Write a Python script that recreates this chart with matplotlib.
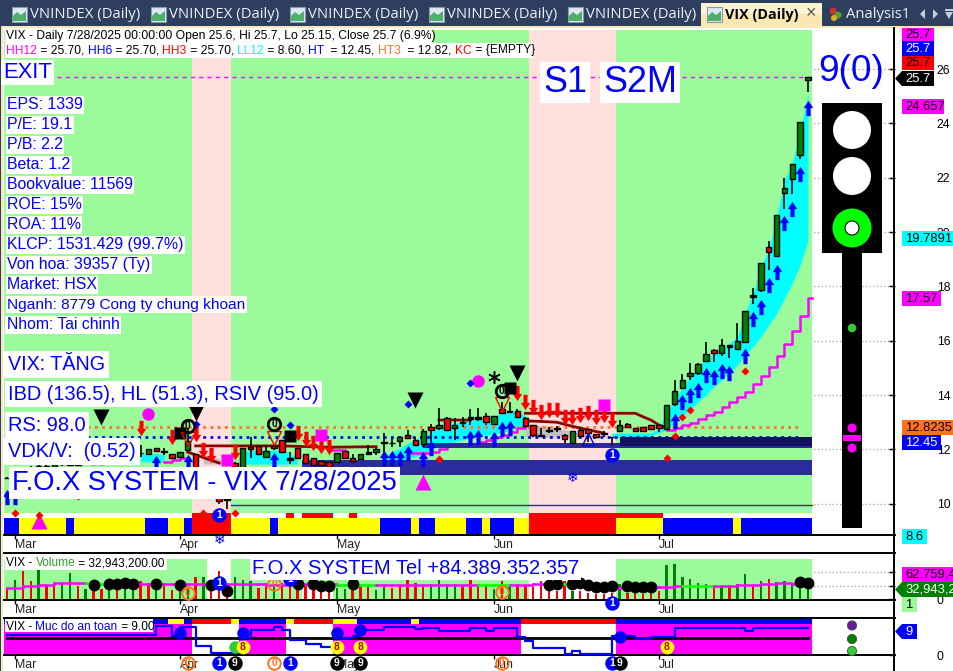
import numpy as np
import matplotlib
matplotlib.use('Agg')
import matplotlib.pyplot as plt
from matplotlib.path import Path
from matplotlib.patches import Rectangle, Polygon, Circle

plt.rcParams['font.family'] = ['Liberation Sans', 'DejaVu Sans']

# ---------- data ----------
bars = np.arange(-1, 102)
month_ticks = [0, 21, 41, 61, 82]
month_labels = ['Mar', 'Apr', 'May', 'Jun', 'Jul']

opens = [10.95,11.10,11.25,11.15,11.30,11.40,11.35,11.45,11.50,11.42,
         11.55,11.60,11.48,11.62,11.58,11.65,11.70,11.85,11.84,12.07,
         11.91,11.84,11.73,11.98,11.84,11.30,10.90,10.60,10.20,11.50,
         10.95,12.09,12.13,11.71,12.13,12.33,11.67,12.04,11.82,11.67,
         11.57,11.55,11.52,11.94,11.67,11.66,11.89,11.92,12.27,12.25,
         12.32,12.52,12.35,12.21,12.81,12.80,13.14,12.80,13.01,13.18,
         13.18,13.22,12.93,13.47,13.40,13.40,13.14,12.89,12.54,12.73,
         12.77,12.52,12.25,12.70,12.74,12.58,12.59,12.47,12.69,12.92,
         12.79,12.84,12.89,12.89,12.76,13.67,14.26,14.70,14.82,15.26,
         15.66,15.56,15.83,15.71,15.96,17.67,17.86,19.44,19.13,21.45,
         21.96,22.85,25.6]
closes = [10.95,11.25,11.15,11.30,11.40,11.35,11.45,11.50,11.42,11.55,
          11.60,11.48,11.62,11.58,11.65,11.70,11.72,11.87,12.00,11.93,
          11.93,11.67,11.89,12.32,10.95,10.80,10.40,10.10,10.15,11.0,
          12.07,12.00,11.84,11.94,12.04,11.89,11.61,11.67,11.51,11.42,
          11.42,11.36,11.85,11.70,11.56,11.82,11.84,12.01,12.22,12.22,
          12.47,12.41,12.17,12.68,12.73,12.89,12.71,12.90,12.96,13.13,
          13.13,13.00,13.23,13.35,13.36,13.18,12.87,12.52,12.50,12.68,
          12.74,12.37,12.66,12.50,12.59,12.44,12.57,12.44,12.89,12.84,
          12.69,12.69,12.74,12.77,13.62,14.14,14.55,14.83,15.13,15.53,
          15.56,15.83,15.78,15.98,17.08,17.62,18.85,19.28,20.61,21.61,
          22.49,24.04,25.7]
highs = [11.0,11.3,11.35,11.4,11.5,11.5,11.55,11.6,11.6,11.65,
         11.7,11.65,11.7,11.7,11.72,11.8,11.8,12.18,12.0,12.07,
         12.04,11.84,11.89,12.77,11.84,11.35,10.95,10.65,10.5,11.55,
         12.07,12.47,12.13,12.16,12.13,12.33,11.91,12.04,11.82,11.67,
         11.57,11.55,11.85,11.94,11.82,11.82,12.16,12.04,12.59,12.41,
         12.49,12.71,12.44,12.74,12.93,13.51,13.18,13.14,13.18,13.47,
         13.51,13.35,13.23,13.76,13.76,13.47,13.18,12.89,12.77,12.84,
         12.86,12.57,12.66,12.77,12.74,12.58,12.69,12.47,13.08,12.96,
         12.79,12.84,12.89,12.89,13.62,14.55,14.77,15.17,15.17,15.95,
         15.71,16.05,15.85,16.64,17.08,17.93,18.85,19.66,20.61,21.99,
         22.49,24.04,25.7]
lows = [10.9,11.05,11.1,11.1,11.25,11.3,11.3,11.4,11.38,11.4,
        11.5,11.45,11.45,11.55,11.55,11.6,11.65,11.73,11.84,11.93,
        11.79,11.67,11.73,11.98,10.9,10.75,10.3,10.0,9.8,10.9,
        10.9,11.67,11.84,11.71,11.98,11.89,11.48,11.67,11.51,11.42,
        11.42,11.36,11.49,11.70,11.49,11.66,11.84,11.79,11.73,12.10,
        12.10,12.37,12.16,12.10,12.28,12.71,12.69,12.35,12.84,12.90,
        13.06,12.90,12.90,13.33,13.35,13.14,12.84,12.47,12.47,12.59,
        12.65,12.22,12.25,12.47,12.28,12.44,12.47,12.16,12.65,12.78,
        12.69,12.69,12.74,12.65,12.76,13.60,14.26,14.55,14.74,15.26,
        15.23,15.43,15.36,15.71,15.96,17.35,17.80,18.60,19.09,20.86,
        21.40,22.70,25.15]

band_idx = [16,17,18,19, 29,30,31,32,33,34,35,36,
            47,48,49,50,51,52,53,54,55,56,57,58,59,60,61,62,63,64,65,
            76,77,78,79,80,81,82,83,84,85,86,87,88,89,90,91,92,93,94,95,96,97,98,99,100,101]
band_hi = [11.85,11.85,11.85,11.8, 11.9,11.97,11.97,11.97,11.97,11.97,11.9,11.6,
           11.73,11.91,12.04,12.22,12.35,12.47,12.65,12.9,12.96,12.96,13.02,13.08,13.11,13.14,13.2,13.33,13.39,13.45,13.2,
           12.6,12.6,12.6,12.6,12.6,12.6,12.77,13.32,13.88,14.25,14.67,15.04,15.35,15.53,15.66,15.9,16.15,17.0,17.74,18.72,19.34,20.56,21.9,22.53,23.75,25.1]
band_lo = [11.55,11.55,11.55,11.55, 11.46,11.46,11.46,11.46,11.46,11.46,11.46,11.46,
           11.6,11.6,11.6,11.67,11.73,11.85,11.98,12.16,12.22,12.28,12.35,12.41,12.47,12.53,12.57,12.62,12.71,12.77,12.86,
           12.45,12.45,12.45,12.45,12.45,12.5,12.62,12.71,12.96,13.26,13.45,13.75,14.0,14.31,14.55,14.8,15.1,15.47,15.78,16.15,16.58,17.0,17.56,18.11,18.79,19.7]

gray_idx = [24,25,26,27, 65,66,68,70,72,74,76]
gray_hi = [11.79,11.75,11.65,11.5, 12.95,12.9,12.85,12.72,12.6,12.5,12.45]
gray_lo = [11.46,11.46,11.46,11.46, 12.45,12.45,12.45,12.45,12.45,12.45,12.45]

maroon_idx = [23,28,34,40,46,np.nan,54,55,56,57,58,np.nan,65,68,72,76,79,80,81,82,83,np.nan,22,24,26,np.nan,65,67,69,71,73,75]
maroon_val = [12.13,12.13,12.13,12.08,12.1,np.nan,13.08,13.08,13.08,13.08,13.08,np.nan,13.33,13.33,13.33,13.33,13.33,13.2,13.08,12.9,12.78,np.nan,11.9,11.7,11.5,np.nan,13.05,13.03,13.0,12.85,12.72,12.6]

step_idx = [19,20,21,22,np.nan,40,41,42,np.nan,50,51,52,53,54,55,np.nan,59,60,61,62,63,64,65,np.nan,
            83,84,85,86,87,88,89,90,91,92,93,94,95,96,97,98,99,100,101,101.5]
step_val = [11.55,11.6,11.67,11.67,np.nan,11.97,11.97,11.97,np.nan,11.86,11.86,11.88,11.92,12.0,12.04,np.nan,12.28,12.35,12.44,12.53,12.65,12.77,12.84,np.nan,
            12.71,12.77,12.89,12.99,13.12,13.27,13.39,13.57,13.73,13.92,14.11,14.4,14.71,15.04,15.43,15.88,16.37,16.91,17.57,17.57]

up_idx = [-1,0,18,22,33,47,48,49,50,52,53,58,59,61,62,63,84,85,86,87,88,89,90,91,93,94,95,96,97,98,99,100,101]
up_val = [10.26,10.26,11.5,11.55,11.6,11.67,11.67,11.67,11.85,11.63,12.07,12.41,12.47,12.37,12.74,12.79,
          13.05,13.75,14.0,14.18,14.74,14.67,14.9,14.82,15.45,16.81,17.25,18.06,18.54,20.32,20.86,22.15,24.57]
down_idx = [16,20,23,24,25,28,36,37,38,39,40,64,65,66,67,68,69,70,71,72,73,74,75,76]
down_val = [12.77,12.44,12.55,11.98,11.79,11.89,12.61,12.37,12.22,12.13,12.1,14.06,13.76,13.57,13.39,13.45,13.45,13.2,13.2,13.26,13.33,13.18,13.26,13.08]

black_tri_idx = [11,23,51,64]
black_tri_val = [13.21,13.33,13.82,14.82]
mag_tri_idx = [3,52]
mag_tri_val = [9.37,10.81]
mag_dot_idx = [17,59]
mag_dot_val = [13.31,14.5]
blue_dia_idx = [50,58,23,33,35]
blue_dia_val = [13.68,14.46,12.94,13.48,12.9]
black_sq_idx = [21,35,63]
black_sq_val = [12.6,12.5,14.25]
mag_sq_idx = [75,39,27]
mag_sq_val = [13.63,12.53,11.6]
red_dot_idx = [85,86,93,84,54,83,0,3,24,28,8]
red_dot_val = [13.2,13.45,14.9,12.5,11.65,11.7,9.67,9.59,9.65,9.65,10.3]
ring0_idx = [22,33,62]
ring0_val = [12.87,12.93,14.16]
ring1_idx = [76,26]
ring1_val = [11.8,9.59]
snow_idx = [71,26]
snow_val = [10.93,8.67]

hh_level = 25.7
ht3_level = 12.8235
ht_level = 12.45
low_line = 9.95

strip_main = 'b'*2+'y'*6+'b'+'y'*9+'b'*3+'y'*2+'b'+'r'*5+'y'*5+'b'+'y'*13+'b'*4+'y'+'b'*2+'y'*4+'b'*2+'y'+'b'*3+'y'*2+'r'*11+'y'*6+'b'*9+'y'+'b'*9
strip_top_red = [23,24,25,26,27,35,37,38,39,40,43]+list(range(66,83))
strip_safe = 'b'*19+'bb'+'yy'+'b'+'r'*5+'y'+'b'*6+'y'+'r'*5+'y'*3+'b'*7+'y'+'b'*13+'r'*12+'b'*25
unsafe_idx = [23,24,25,26,27,28,35,36,37,38,39,40]+list(range(65,77))

volumes = [33,58,83,53,88,38,43,48,78,38,
           30,23,30,28,26,30,28,53,48,33,
           38,28,48,36,65,66,48,83,33,65,
           58,53,33,48,43,48,63,63,43,28,
           23,23,33,30,28,38,38,28,36,33,
           38,58,48,35,45,60,35,45,37,60,
           45,40,30,55,35,45,40,35,55,25,
           25,55,25,25,20,15,15,20,45,20,
           20,17,20,25,100,103,67,60,47,45,
           40,40,42,45,75,42,55,60,50,55,
           45,33,33]
vol_up = ('rgrrgrrggr' 'grrgrggrrg' 'rrggrgrrrg' 'ggrrgrrrrr' 'rrggrrrggr'
          'rrrrggggrr' 'rrgrgrrrrr' 'rrgrrrrrgr' 'rrrrgggggg' 'rgrggrgrgg' 'ggg')
vol_ma = [33,33,40,40,42,42,48,48,48,48,
          48,46,46,45,45,45,45,45,46,46,
          46,45,44,44,44,45,45,45,45,45,
          45,45,45,42,42,43,45,45,44,44,
          44,44,43,43,42,42,42,41,41,41,
          41,42,43,43,43,42,42,42,42,42,
          41,41,42,42,43,43,43,44,44,44,
          44,44,42,42,40,38,36,33,33,33,
          33,33,35,36,37,38,38,38,38,38,
          39,40,40,41,42,42,44,46,47,47,
          46,45,45]
vol_ma_green = [9,10,11,12,41,42,43,44,45,59,60,61,62,68,69,70,85,86,87,88]
vol_white = [25,26,27]+list(range(66,77))
vol_white_low = [37,38,39,40]
vol_dot_idx = [10,12,13,14,15,18,21,25,27,36,38,39,40,43,68,69,71,72,73,74,75,76,78,79,80,81,100,101]
vol_dot_val = [43,45,45,48,45,45,43,43,25,45,45,40,40,45,42,45,45,48,42,35,35,40,40,37,37,37,52,48]

safety = [7,7,7,7,7,7,7,7,7,7,
          7,7,7,7,7,7,7,7,7,9.9,
          9.9,6.7,9.7,9.7,3,3,0.7,0.7,0.7,0.7,
          6,8.8,8.8,8.8,9.7,8.8,5.3,5.3,3.8,3.8,
          2.8,2.8,5.9,5.9,6.7,8.8,8.8,8.8,9.7,9.7,
          9.7,9.7,9.1,9.2,9.2,8.2,8.2,8.2,8.2,9.4,
          9.4,8.2,9.4,9.4,9.4,6.1,5,2.4,2.4,2.4,
          2.4,0.2,1.4,0.2,0.2,0.2,0.2,6.5,6.5,6.5,
          5.5,5.5,6.1,6.1,6.1,9.2,9.2,9.2,9.2,9.2,
          9.2,9.2,9.2,9.2,8.2,9.4,9.4,9.4,9.4,9.4,
          9.4,9.4,9.4]
safety_level = 6
safe_dot_idx = [21,29,41,44,77]
safe_dot_val = [7.6,7.6,7.6,8.7,6.4]
safe_green_idx = [28]
safe_green_val = [2.8]
safe8_idx = [29,41,44,83]
safe8_val = [2.8,2.8,2.8,2.8]

labels_info = ['EPS: 1339', 'P/E: 19.1', 'P/B: 2.2', 'Beta: 1.2', 'Bookvalue: 11569', 'ROE: 15%',
               'ROA: 11%', 'KLCP: 1531.429 (99.7%)', 'Von hoa: 39357 (Ty)', 'Market: HSX',
               'Nganh: 8779 Cong ty chung khoan', 'Nhom: Tai chinh']
labels_px = [15.9, 15.9, 15.9, 15.9, 15.9, 15.9, 15.9, 15.9, 15.9, 15.9, 15.4, 15.7]
header_parts = [('HH12', '#ff00ff'), (' = 25.70, ', 'k'), ('HH6', '#0000ff'), (' = 25.70, ', 'k'),
                ('HH3', '#ff0000'), (' = 25.70, ', 'k'), ('LL12', '#00ffff'), (' = 8.60, ', 'k'),
                ('HT ', '#0000ff'), (' = 12.45, ', 'k'), ('HT3 ', '#ff7020'), (' = 12.82, ', 'k'),
                ('KC', '#ff0000'), (' = {EMPTY}', 'k')]
tab_titles = [12, 151, 290, 429, 568]

# ---------- layout helpers ----------
W, H = 954, 671
GREEN, PINK = '#9bfb9b', '#ffe0dd'
STRIP = {'b': '#0000ff', 'y': '#ffff00', 'r': '#ff0000'}
X_LEFT, X_RIGHT = -1.4, 112.08

def axes_px(x0, y0, x1, y1):
    return fig.add_axes([x0/W, 1-y1/H, (x1-x0)/W, (y1-y0)/H])

def style_panel(ax):
    ax.set_xlim(X_LEFT, X_RIGHT)
    ax.set_xticks(month_ticks)
    ax.set_xticklabels(month_labels)
    ax.tick_params(axis='x', length=3, width=1, labelsize=8.8, pad=0, color='k', labelcolor='#222222')
    for lab in ax.get_xticklabels():
        lab.set_ha('left')
    ax.yaxis.tick_right()
    ax.tick_params(axis='y', direction='in', length=4, width=1, labelsize=8.8, pad=30)
    for s in ['left', 'right']:
        ax.spines[s].set_visible(False)
    ax.spines['bottom'].set_linewidth(1.4)
    ax.spines['top'].set_linewidth(1.4)
    ax.set_axisbelow(True)

fig = plt.figure(figsize=(W/100, H/100), dpi=100, facecolor='white')

# ---------- main price panel ----------
ax = axes_px(4, 28, 895, 535)
style_panel(ax)
ax.spines['top'].set_visible(False)
ax.set_ylim(8.85, 27.51)
ax.set_yticks([10, 12, 14, 16, 18, 20, 22, 24, 26])
ax.grid(True, ls=':', color='#aaaaaa', lw=1)
tr = ax.get_xaxis_transform()

ax.bar(bars, 0.9935, bottom=0.003, width=1.0, transform=tr, color=[PINK if (23 <= b <= 27 or 66 <= b <= 76) else GREEN for b in bars], zorder=1, linewidth=0)
ax.bar(bars, 0.0105, bottom=0.0335, width=1.0, transform=tr, color=['#ff0000' if b in strip_top_red else 'white' for b in bars], zorder=1.2, linewidth=0)
ax.bar(bars, 0.0315, bottom=0.002, width=1.0, transform=tr, color=[STRIP[c] for c in strip_main], zorder=1.2, linewidth=0)

ax.barh(11.335, 65, height=0.55, left=36.5, color='#2b2b9e', zorder=2.6)
ax.barh(12.14, 49.5, height=0.18, left=52, color='#2b2b9e', zorder=2.6)
ax.barh(12.285, 24.5, height=0.33, left=77, color='#12125e', zorder=2.6)
ax.plot([27.5, 101.5], [low_line, low_line], color='#2b2b9e', lw=1, zorder=2)

b_i, b_h, b_l = map(np.array, (band_idx, band_hi, band_lo))
for a, z in [(16, 19), (29, 36), (47, 65), (76, 101)]:
    m = (b_i >= a) & (b_i <= z)
    ax.fill_between(b_i[m], b_l[m], b_h[m], color='#00ffff', lw=0, zorder=2)
g_i, g_h, g_l = map(np.array, (gray_idx, gray_hi, gray_lo))
for a, z in [(24, 27), (65, 76)]:
    m = (g_i >= a) & (g_i <= z)
    ax.fill_between(g_i[m], g_l[m], g_h[m], color='#c0c0c0', lw=0, zorder=2.1)

ax.plot([-1, 101.5], [hh_level, hh_level], color='#ff00ff', lw=1, ls=(0, (3, 3)), zorder=2.3)
ax.plot([0, 100], [ht3_level, ht3_level], color='#ff7020', lw=2, ls=(0, (1, 1.6)), zorder=2.3)
ax.plot([0, 100], [ht_level, ht_level], color='#0000ff', lw=2, ls=(0, (1, 1.6)), zorder=2.3)
ax.step(step_idx, step_val, where='post', color='#ff00ff', lw=1.8, zorder=2.4)
ax.plot(maroon_idx, maroon_val, color='#8b0000', lw=2, zorder=2.5)

op, cl, hi, lo = map(np.array, (opens, closes, highs, lows))
ax.vlines(bars, lo, hi, color='k', lw=1.2, zorder=3)
body_col = ['k' if abs(o-c) < 0.07 else ('#008000' if c > o else '#ff0000') for o, c in zip(op, cl)]
ax.bar(bars, np.abs(cl-op), bottom=np.minimum(op, cl), width=0.7, color=body_col, edgecolor='k', lw=1, zorder=3.2)

arrow_up = Path([(0, 1), (0.62, 0.05), (0.27, 0.05), (0.27, -1), (-0.27, -1), (-0.27, 0.05), (-0.62, 0.05), (0, 1)])
arrow_dn = Path([(0, -1), (0.62, -0.05), (0.27, -0.05), (0.27, 1), (-0.27, 1), (-0.27, -0.05), (-0.62, -0.05), (0, -1)])
def mk(x, y, **kw):
    kw.setdefault('mec', 'none')
    kw.setdefault('zorder', 4)
    ax.plot(x, y, ls='none', **kw)
mk(up_idx, up_val, marker=arrow_up, ms=11, mfc='#0000ff')
mk(down_idx, down_val, marker=arrow_dn, ms=11, mfc='#ff0000')
mk(black_sq_idx, black_sq_val, marker='s', ms=9, mfc='k')
mk(mag_sq_idx, mag_sq_val, marker='s', ms=9, mfc='#ff00ff')
mk(black_tri_idx, black_tri_val, marker='v', ms=11, mfc='k')
mk(mag_tri_idx, mag_tri_val, marker='^', ms=11, mfc='#ff00ff')
mk(mag_dot_idx, mag_dot_val, marker='o', ms=9, mfc='#ff00ff')
mk(blue_dia_idx, blue_dia_val, marker='D', ms=4, mfc='#0000ff')
mk(red_dot_idx, red_dot_val, marker='D', ms=4, mfc='#ff0000')
mk([61], [14.68], marker=(6, 2, 0), ms=9, mec='k', mew=1.1)
mk([73], [12.4], marker='^', ms=8, mfc='none', mec='#0000ff', mew=1)
mk(ring0_idx, [v-0.5 for v in ring0_val], marker='v', ms=10, mfc='none', mec='#ff0000', mew=1)

def ring(a, i, y, s, fc, ec, tc, ms=9, fs=7.4, mew=1.4):
    a.plot([i], [y], marker='o', ms=ms, mfc=fc, mec=ec, mew=mew, ls='none', zorder=6, clip_on=False)
    a.text(i, y, s, color=tc, ha='center', va='center', fontsize=fs, fontweight='bold', zorder=7, clip_on=False)
for i, v in zip(ring0_idx, ring0_val):
    ring(ax, i, v, '0', 'none', 'k', 'k', mew=2)
for i, v in zip(ring1_idx, ring1_val):
    ring(ax, i, v, '1', '#0000ff', '#0000ff', 'white')
for i, v in zip(snow_idx, snow_val):
    ax.text(i, v, '\u2744', family=['DejaVu Sans'], color='#0000ff', fontsize=10, ha='center', va='center', zorder=6, clip_on=False)

# ---------- volume panel ----------
av = axes_px(4, 553, 895, 600)
style_panel(av)
av.set_ylim(-2, 136)
av.set_yticks([0, 40, 80])
av.set_yticklabels(['0', '', ''])
av.grid(axis='y', ls=':', color='#aaaaaa', lw=1)
av.bar(bars, 117, width=1.0, color=['white' if b in vol_white else GREEN for b in bars], zorder=1, linewidth=0)
av.bar(vol_white_low, 40, width=1.0, color='white', zorder=1.1, linewidth=0)
av.bar(bars, volumes, width=0.3, color=['#008000' if c == 'g' else '#ff0000' for c in vol_up], zorder=2, linewidth=0)
for k in range(len(bars)-1):
    col = '#00ff00' if int(bars[k]) in vol_ma_green else '#ff00ff'
    av.step(bars[k:k+2], vol_ma[k:k+2], where='post', color=col, lw=1.8, zorder=3)
av.plot(vol_dot_idx, vol_dot_val, ls='none', marker='o', ms=8.5, mfc='k', mec='none', zorder=4)
for i, v in [(22, 20), (33, 45), (62, 21)]:
    ring(av, i, v, '0', 'none', '#ff7020', '#ff7020')
for i, v in [(26, 48), (35, 60), (76, -12)]:
    ring(av, i, v, '1', '#0000ff', '#0000ff', 'white')

# ---------- safety panel ----------
ap = axes_px(4, 618, 895, 655)
style_panel(ap)
ap.set_ylim(0, 12.8)
ap.set_yticks([0])
ap.grid(axis='y', ls=':', color='#aaaaaa', lw=1)
ap.bar(bars, 10.7, width=1.0, color=['white' if b in unsafe_idx else '#ff00ff' for b in bars], zorder=1, linewidth=0)
ap.bar(bars, 1.9, bottom=10.7, width=1.0, color=[STRIP[c] for c in strip_safe], zorder=1.1, linewidth=0)
ap.plot([-1, 101], [safety_level, safety_level], color='k', lw=2, zorder=2)
ap.step(bars, safety, where='post', color='#0000ff', lw=1.6, zorder=3)
ap.plot(safe_dot_idx, safe_dot_val, ls='none', marker='o', ms=9, mfc='#0000ff', mec='none', zorder=4)
ap.plot(safe_green_idx, safe_green_val, ls='none', marker='o', ms=9, mfc='#32cd32', mec='none', zorder=4)
for i, v in zip(safe8_idx, safe8_val):
    ring(ap, i, v, '8', 'yellow', 'yellow', '#b00000', ms=8.5)
for i, s, fc, ec, tc in [(22, '0', 'none', '#ff7020', '#ff7020'), (26, '1', '#0000ff', '#0000ff', 'white'),
                         (28, '9', 'k', 'k', 'white'), (33, '0', 'none', '#ff7020', '#ff7020'),
                         (35, '1', '#0000ff', '#0000ff', 'white'), (41, '9', 'k', 'k', 'white'),
                         (44, '9', 'k', 'k', 'white'), (62, '0', 'none', '#ff7020', '#ff7020'),
                         (76, '1', '#0000ff', '#0000ff', 'white'), (77, '9', 'k', 'k', 'white')]:
    ring(ap, i, -2.9, s, fc, ec, tc)

# ---------- overlay in pixel units ----------
ov = fig.add_axes([0, 0, 1, 1], zorder=10)
ov.set_xlim(0, W)
ov.set_ylim(H, 0)
ov.axis('off')
ov.patch.set_alpha(0)

def rect(x0, y0, x1, y1, **kw):
    kw.setdefault('lw', 0)
    ov.add_patch(Rectangle((x0, y0), x1-x0, y1-y0, **kw))

def label(x, y, s, px, color='#0000ff', box=True, pad=1.5, **kw):
    bb = dict(fc='white', ec='none', boxstyle=f'square,pad={pad/px:.3f}') if box else None
    return ov.text(x, y+px*0.06, s, fontsize=px*0.72, color=color, va='center', ha='left', bbox=bb, **kw)

# tab strip
rect(0, 0, W, 26, fc='#2d3e5e')
rect(0, 26, W, 28, fc='#f6e8b8')
rect(0, 26, 1, H, fc='#2d3e5e')
rect(1, 26, 3, H, fc='#f6e8b8')
for xt in tab_titles:
    rect(xt, 7, xt+15, 22, fc='#dce8f2', ec='#8a97a8', lw=0.8)
    ov.add_patch(Polygon([(xt+1, 21), (xt+1, 16), (xt+5, 12), (xt+9, 15), (xt+14, 11), (xt+14, 21)], fc='#4caf6a', lw=0))
    ov.text(xt+18, 14.5, 'VNINDEX (Daily)', family=['Open Sans'], fontsize=10.7, color='#eef0f4', va='center')
rect(701, 3, 822, 26, fc='#fdf3d2')
rect(701, 14, 822, 26, fc='#fbe8b0')
rect(707, 7, 722, 22, fc='#dce8f2', ec='#8a97a8', lw=0.8)
ov.add_patch(Polygon([(708, 21), (708, 16), (712, 12), (716, 15), (721, 11), (721, 21)], fc='#4caf6a', lw=0))
ov.text(725, 14.5, 'VIX (Daily)', family=['Open Sans'], fontsize=10.4, fontweight='bold', color='k', va='center')
ov.text(811, 14, '\u00d7', fontsize=13, color='#555555', va='center', ha='center')
ov.add_patch(Circle((833, 11), 3.5, fc='#d03030', lw=0))
ov.add_patch(Circle((838, 15), 3.5, fc='#50a030', lw=0))
ov.add_patch(Circle((834, 18), 3, fc='#e0b020', lw=0))
ov.text(846, 14.5, 'Analysis1', family=['Open Sans'], fontsize=10.7, color='#eef0f4', va='center')
ov.add_patch(Polygon([(925, 9), (925, 19), (920, 14)], fc='#c8ccd4', lw=0))
ov.add_patch(Polygon([(933, 9), (933, 19), (938, 14)], fc='#c8ccd4', lw=0))
ov.add_patch(Polygon([(945, 12), (953, 12), (949, 19)], fc='#c8ccd4', lw=0))
rect(945, 9, 953, 10.5, fc='#c8ccd4')

# header
rect(5, 28, 433, 43, fc='white')
rect(5, 43, 533, 58, fc='white')
ov.text(6, 35.5, 'VIX - Daily 7/28/2025 00:00:00 Open 25.6, Hi 25.7, Lo 25.15, Close 25.7 (6.9%)', fontsize=8.75, color='k', va='center')
fig.canvas.draw()
rend = fig.canvas.get_renderer()
cx = 6.0
for s, c in header_parts:
    t = ov.text(cx, 50.5, s.replace(' ', '\u00a0'), fontsize=8.65, color=c, va='center')
    cx += t.get_window_extent(rend).width

label(3, 71, 'EXIT', 22, pad=2)
label(543, 80, 'S1', 36, pad=3)
label(603, 80, 'S2M', 36, pad=3)
label(818, 69, '9(0)', 37, box=False)
for k, s in enumerate(labels_info):
    label(7, 104+20*k, s, labels_px[k])
label(8, 363, 'VIX: TĂNG', 19.8, pad=4)
label(8, 393, 'IBD (136.5), HL (51.3), RSIV (95.0)', 20, pad=3.5)
label(8, 424, 'RS: 98.0', 20, pad=3.5)
label(8, 450, 'VDK/V:  (0.52)', 20, pad=4)
label(12, 481, 'F.O.X SYSTEM - VIX 7/28/2025', 27.3, pad=3)
label(252, 567, 'F.O.X SYSTEM Tel +84.389.352.357', 20.2, pad=2)

rect(5, 556, 167, 570, fc='white')
cx = 6.0
for s, c in [('VIX - ', 'k'), ('Volume', '#2e9e2e'), (' = 32,943,200.00', 'k')]:
    t = ov.text(cx, 563, s.replace(' ', '\u00a0'), fontsize=8.6, color=c, va='center', zorder=5)
    cx += t.get_window_extent(rend).width
rect(5, 619, 153, 632, fc='white')
cx = 6.0
for s, c in [('VIX - ', 'k'), ('Muc do an toan', '#0000ff'), (' = 9.00', 'k')]:
    t = ov.text(cx, 626.5, s.replace(' ', '\u00a0'), fontsize=8.6, color=c, va='center', zorder=5)
    cx += t.get_window_extent(rend).width

# signal light
rect(822, 103, 882, 253, fc='k')
rect(842, 253, 862, 528, fc='k')
ov.add_patch(Circle((852, 130), 19, fc='white', lw=0))
ov.add_patch(Circle((852, 176), 19, fc='white', lw=0))
ov.add_patch(Circle((852, 228), 19.5, fc='#00ff00', lw=0))
ov.add_patch(Circle((852, 228), 7, fc='white', ec='k', lw=0.8))
ov.add_patch(Circle((852, 328), 4.3, fc='#32cd32', lw=0))
ov.add_patch(Circle((852, 428), 4.5, fc='#ff00ff', lw=0))
rect(843, 435, 861, 441, fc='#ff00ff')
ov.add_patch(Circle((852, 448), 4.5, fc='#ff00ff', lw=0))
for yy, cc in [(625.5, '#6a1b9a'), (639, '#008000'), (651, '#32cd32')]:
    ov.add_patch(Circle((852, yy), 4.6, fc=cc, ec='#444444', lw=0.6))

# right axis line and value tags
ov.plot([894.5, 894.5], [28, H], color='k', lw=1.4)
def tag(x0, y0, x1, y1, s, fc, tc='k', pointer=False, px=13):
    rect(x0, y0, x1, y1, fc=fc)
    if pointer:
        ov.add_patch(Polygon([(x0, y0), (x0-7, (y0+y1)/2), (x0, y1)], fc=fc, lw=0))
    ov.text(x0+3, (y0+y1)/2+0.3, s, fontsize=px*0.72, color=tc, va='center', ha='left', clip_on=True)
tag(902, 28, 934, 41, '25.7', '#ff00ff')
tag(902, 41, 934, 56, '25.7', '#0000ff', 'white')
tag(902, 56, 934, 70, '25.7', '#ff0000')
tag(902, 71, 934, 86, '25.7', 'k', 'white', True)
tag(902, 99, 944, 114, '24.657', '#ff00ff')
tag(902, 231, 954, 246, '19.7891', '#00ffff')
tag(902, 291, 941, 306, '17.57', '#ff00ff')
tag(902, 420, 954, 435, '12.8235', '#ff7020')
tag(902, 435, 941, 450, '12.45', '#0000ff', 'white')
tag(902, 529, 927, 544, '8.6', '#00ffff')
tag(902, 567, 954, 582, '62,759,46', '#ff00ff')
tag(902, 582, 954, 597, '32,943,20', '#008000', 'white', True)
tag(902, 597, 917, 612, '1', GREEN)
tag(902, 624, 917, 639, '9', '#0000ff', 'white', True)

fig.savefig('out.png', dpi=100, facecolor='white')
